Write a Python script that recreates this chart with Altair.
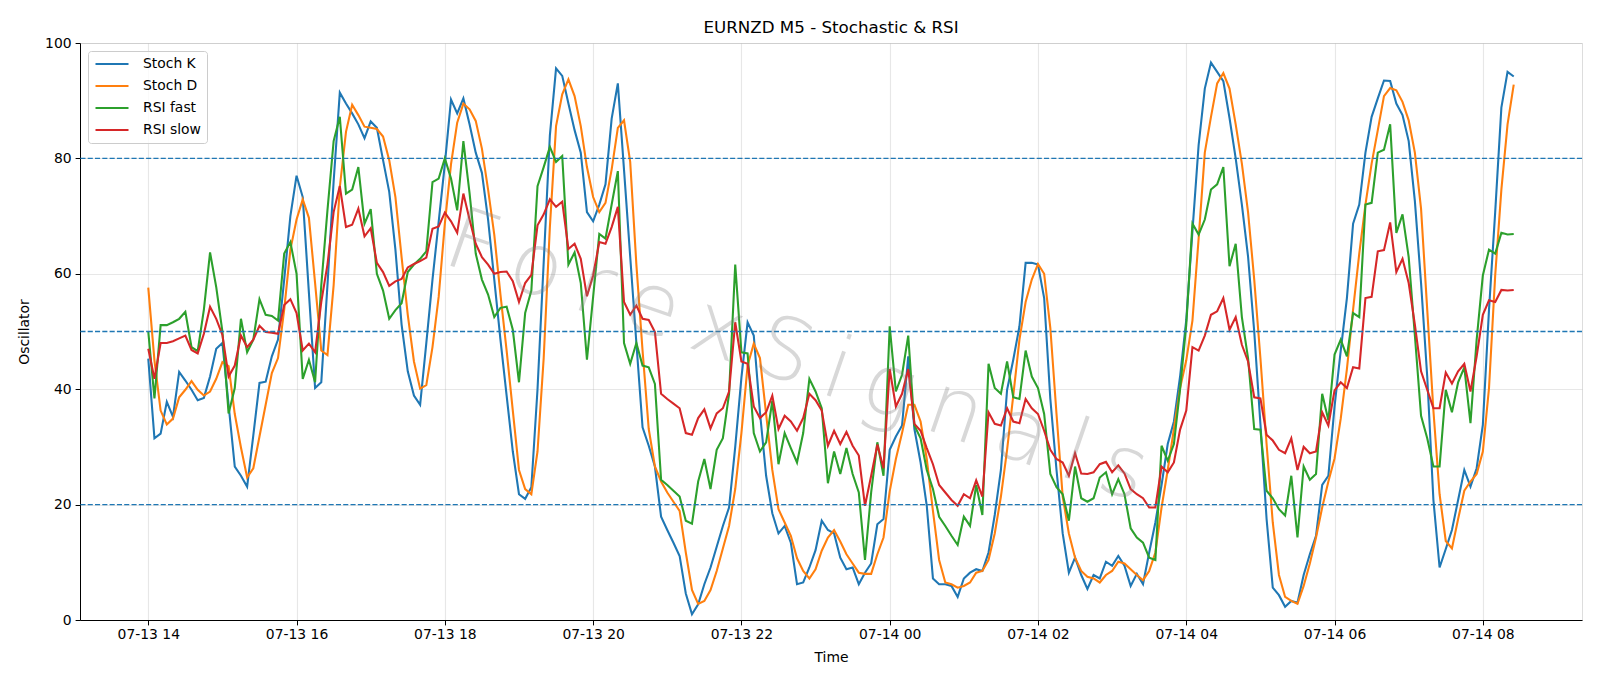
import altair as alt
import pandas as pd

# ---------------- data ----------------
SERIES = ["Stoch K", "Stoch D", "RSI fast", "RSI slow"]
COLORS = ["#1f77b4", "#ff7f0e", "#2ca02c", "#d62728"]
LEVELS = [20, 50, 80]
START = "2025-07-13 14:00"
STEP = "5min"
TITLE = "EURNZD M5 - Stochastic & RSI"
WATERMARK = "ForexSignals"

STOCH_K = [
    45.3, 31.5, 32.3, 37.8, 35.2, 43.0, 41.5, 39.9, 38.1, 38.5,
    42.2, 47.0, 48.0, 37.3, 26.6, 25.0, 23.1, 32.0, 41.1, 41.3,
    45.7, 48.6, 59.0, 70.0, 77.0, 73.3, 56.7, 40.2, 41.2, 58.0,
    76.0, 91.4, 89.5, 87.8, 85.9, 83.5, 86.4, 85.3, 79.7, 74.2,
    64.2, 51.2, 43.1, 38.9, 37.3, 48.0, 59.0, 69.0, 79.0, 90.2,
    87.8, 90.4, 85.9, 81.0, 77.5, 69.4, 59.0, 48.6, 38.9, 29.2,
    21.8, 21.0, 23.0, 40.0, 62.0, 84.0, 95.6, 94.3, 89.5, 84.9,
    81.0, 70.7, 69.1, 72.0, 75.5, 86.9, 93.0, 78.0, 63.0, 48.0,
    33.4, 30.2, 26.6, 17.9, 15.6, 13.4, 11.1, 4.6, 1.0, 2.7,
    6.2, 9.1, 12.7, 16.3, 19.5, 30.0, 42.0, 51.6, 49.3, 36.0,
    25.0, 18.5, 15.0, 16.3, 13.4, 6.2, 6.5, 9.1, 12.1, 17.2,
    15.6, 15.0, 10.8, 8.8, 9.1, 6.2, 8.2, 9.8, 16.6, 17.5,
    29.5, 31.8, 33.7, 45.7, 33.1, 27.3, 19.8, 7.2, 6.2, 6.2,
    5.9, 4.0, 7.2, 8.2, 8.8, 8.5, 11.7, 18.2, 26.0, 39.9,
    45.1, 50.9, 61.9, 61.9, 61.6, 55.8, 38.3, 26.0, 15.0, 8.2,
    10.8, 7.8, 5.4, 7.8, 7.2, 10.1, 9.4, 11.1, 9.4, 5.9,
    8.0, 6.2, 11.7, 16.9, 23.4, 30.5, 34.4, 42.2, 52.0, 67.4,
    82.3, 92.1, 96.6, 95.0, 93.4, 87.0, 80.0, 72.0, 63.0, 50.0,
    34.0, 17.5, 5.6, 4.3, 2.3, 3.3, 3.0, 7.8, 11.4, 14.6,
    23.4, 25.0, 37.0, 46.7, 55.8, 68.7, 72.0, 81.0, 87.2, 90.4,
    93.5, 93.4, 89.5, 87.5, 83.0, 72.6, 58.4, 42.2, 20.8, 9.1,
    12.3, 15.6, 20.8, 26.0, 23.1, 26.3, 33.8, 53.8, 70.7, 88.8,
    95.0, 94.2,
]

STOCH_D = [
    57.6, 45.0, 36.3, 33.9, 34.9, 38.6, 39.9, 41.4, 39.9, 38.9,
    39.6, 41.8, 44.7, 44.0, 35.7, 29.9, 24.7, 26.3, 31.8, 37.3,
    42.8, 45.4, 53.8, 64.2, 69.4, 72.9, 69.7, 58.4, 46.7, 45.9,
    58.0, 75.0, 84.6, 89.3, 87.5, 85.5, 85.3, 85.1, 83.8, 79.7,
    73.3, 62.9, 52.9, 44.8, 40.1, 40.7, 47.3, 56.0, 68.7, 79.0,
    86.2, 89.5, 88.5, 86.5, 81.7, 74.6, 66.8, 56.4, 46.7, 36.3,
    26.0, 22.7, 21.8, 29.2, 45.4, 68.1, 85.6, 91.1, 93.7, 90.8,
    85.6, 78.5, 73.3, 70.7, 72.3, 78.1, 85.3, 86.6, 79.4, 61.6,
    46.7, 33.1, 26.6, 24.0, 22.1, 20.5, 18.9, 11.7, 5.2, 2.8,
    3.3, 5.2, 8.5, 12.4, 16.3, 22.7, 32.4, 44.1, 47.9, 45.4,
    35.7, 26.0, 19.2, 16.9, 14.6, 10.7, 8.5, 7.2, 8.8, 12.0,
    14.3, 15.6, 13.6, 11.4, 9.8, 8.2, 8.0, 8.0, 11.4, 14.3,
    22.3, 27.9, 32.4, 37.3, 37.3, 34.4, 27.9, 18.9, 10.4, 6.5,
    6.2, 5.6, 5.9, 6.5, 8.2, 8.5, 10.4, 15.0, 21.4, 29.5,
    38.9, 48.6, 55.1, 59.0, 61.7, 60.0, 50.6, 35.7, 21.4, 15.0,
    10.8, 8.5, 7.5, 7.2, 6.5, 7.8, 8.5, 10.1, 9.8, 8.8,
    7.8, 6.9, 8.5, 11.7, 19.5, 26.0, 33.1, 40.2, 45.0, 51.9,
    66.1, 81.0, 87.2, 93.0, 94.8, 92.1, 85.9, 79.1, 70.7, 59.0,
    45.4, 30.5, 16.9, 7.8, 4.0, 3.3, 2.8, 5.9, 9.8, 14.3,
    19.5, 24.0, 28.0, 34.9, 43.5, 53.8, 63.5, 72.0, 79.1, 84.9,
    90.8, 92.2, 91.8, 89.8, 86.6, 81.0, 71.3, 53.8, 36.3, 21.8,
    13.7, 12.4, 17.5, 22.4, 24.0, 25.3, 29.2, 40.2, 59.7, 74.6,
    85.9, 92.8,
]

RSI_FAST = [
    50.0, 38.4, 51.1, 51.1, 51.6, 52.2, 53.4, 47.3, 46.6, 53.8,
    63.7, 57.7, 50.0, 35.8, 40.2, 52.2, 46.4, 48.6, 55.6, 52.9,
    52.7, 51.9, 63.5, 65.5, 60.0, 41.8, 45.1, 41.2, 58.0, 71.0,
    83.0, 87.2, 73.9, 74.6, 78.5, 68.7, 71.2, 60.0, 57.1, 52.2,
    53.7, 54.9, 60.3, 61.6, 62.6, 63.9, 75.9, 76.5, 80.0, 76.5,
    71.0, 83.0, 74.0, 63.5, 59.0, 56.4, 52.5, 54.1, 54.3, 50.3,
    41.2, 53.2, 57.1, 75.2, 78.5, 82.0, 79.4, 80.4, 61.6, 63.7,
    58.4, 45.1, 56.0, 66.9, 66.1, 72.0, 77.8, 48.0, 44.4, 48.0,
    44.1, 43.8, 40.9, 24.3, 23.4, 22.4, 21.4, 17.2, 16.7, 24.0,
    27.9, 22.7, 29.5, 31.5, 39.2, 61.6, 46.4, 46.2, 32.4, 29.2,
    30.8, 38.0, 27.0, 32.4, 29.8, 27.3, 32.4, 41.8, 39.6, 36.7,
    23.7, 29.2, 25.3, 29.8, 25.3, 22.1, 10.4, 22.1, 30.8, 25.0,
    50.9, 39.6, 42.5, 49.3, 33.7, 31.5, 26.0, 22.7, 17.9, 16.3,
    14.6, 13.0, 17.9, 16.3, 23.4, 18.2, 44.4, 40.2, 39.2, 44.8,
    38.6, 38.3, 46.7, 42.2, 40.2, 35.7, 25.3, 23.0, 21.8, 17.2,
    26.6, 21.1, 20.5, 21.1, 24.7, 25.6, 21.8, 24.4, 21.8, 15.9,
    14.3, 13.4, 10.8, 10.4, 30.2, 27.6, 30.5, 40.0, 51.2, 68.7,
    66.8, 69.4, 74.6, 75.5, 78.5, 61.3, 65.2, 52.5, 45.4, 33.1,
    33.0, 22.4, 21.1, 19.2, 18.1, 25.0, 14.3, 26.6, 24.3, 25.3,
    39.2, 34.6, 46.0, 48.6, 45.7, 53.2, 52.5, 72.0, 72.3, 81.0,
    81.5, 85.9, 67.1, 70.3, 62.9, 49.3, 35.4, 31.5, 26.6, 26.6,
    39.9, 36.0, 41.2, 43.8, 34.1, 48.6, 59.7, 64.2, 63.5, 67.1,
    66.8, 66.9,
]

RSI_SLOW = [
    47.0, 41.8, 48.0, 48.0, 48.3, 48.8, 49.3, 46.8, 46.2, 49.6,
    54.3, 52.2, 49.4, 42.2, 44.1, 49.3, 47.3, 48.6, 51.0, 49.9,
    49.8, 49.6, 54.6, 55.6, 53.2, 46.7, 47.9, 46.4, 55.1, 61.6,
    70.7, 75.2, 68.1, 68.5, 71.3, 66.5, 67.9, 61.9, 60.3, 57.9,
    58.7, 59.1, 61.1, 61.7, 62.2, 62.8, 67.8, 68.2, 70.6, 69.1,
    67.1, 73.9, 69.4, 65.2, 62.9, 61.6, 60.0, 60.3, 60.4, 58.7,
    55.1, 58.4, 59.8, 68.4, 70.3, 72.9, 71.6, 72.5, 64.3, 65.2,
    62.6, 56.1, 59.7, 65.5, 65.2, 68.1, 71.6, 55.1, 52.9, 54.5,
    52.2, 52.0, 49.9, 39.2, 38.3, 37.5, 36.7, 32.4, 32.1, 35.0,
    36.5, 33.2, 35.8, 36.7, 39.6, 51.6, 44.8, 44.4, 37.0, 35.0,
    36.0, 38.9, 33.1, 35.4, 34.4, 32.8, 35.0, 39.2, 38.1, 36.3,
    30.2, 32.8, 30.5, 32.6, 30.2, 28.5, 19.8, 25.0, 30.4, 26.3,
    43.5, 37.0, 39.2, 43.5, 34.0, 32.8, 29.8, 27.0, 23.4, 22.1,
    20.8, 19.8, 21.8, 21.1, 24.2, 21.4, 36.0, 34.0, 33.7, 36.7,
    34.4, 34.1, 38.3, 36.7, 35.7, 32.8, 29.5, 27.9, 27.3, 25.0,
    28.9, 25.4, 25.3, 25.6, 27.0, 27.4, 25.6, 26.8, 25.4, 22.7,
    21.8, 21.1, 19.5, 19.5, 26.6, 25.6, 27.3, 33.0, 36.3, 47.3,
    46.7, 49.3, 52.9, 53.5, 55.8, 50.3, 52.5, 47.7, 44.8, 38.6,
    38.4, 32.1, 31.1, 29.5, 28.9, 31.5, 26.0, 30.0, 28.9, 29.2,
    36.0, 33.7, 39.8, 41.2, 40.2, 43.8, 43.6, 55.8, 56.0, 63.9,
    64.1, 68.9, 60.3, 62.6, 58.4, 51.2, 43.1, 39.9, 36.7, 36.7,
    42.9, 41.0, 43.1, 44.4, 39.6, 45.7, 52.9, 55.4, 55.1, 57.2,
    57.1, 57.2,
]

assert len(STOCH_K) == len(STOCH_D) == len(RSI_FAST) == len(RSI_SLOW) == 222

# ---------------- tables ----------------
times = pd.date_range(START, periods=len(STOCH_K), freq=STEP)
wide = pd.DataFrame({
    "time": times,
    "Stoch K": STOCH_K,
    "Stoch D": STOCH_D,
    "RSI fast": RSI_FAST,
    "RSI slow": RSI_SLOW,
})
long = wide.melt("time", var_name="series", value_name="value")
levels = pd.DataFrame({"level": LEVELS})
wm_text = "\u2009".join(list(WATERMARK))
wm = pd.DataFrame({"time": [pd.Timestamp("2025-07-13 22:45")], "value": [45.5],
                   "text": [wm_text]})

FONT = "DejaVu Sans"
FS = 13.9

x_domain = [
    alt.DateTime(year=2025, month=7, date=13, hours=13, minutes=4, seconds=45),
    alt.DateTime(year=2025, month=7, date=14, hours=9, minutes=20, seconds=15),
]
tick_values = []
for h in [14, 16, 18, 20, 22]:
    tick_values.append(alt.DateTime(year=2025, month=7, date=13, hours=h))
for h in [0, 2, 4, 6, 8]:
    tick_values.append(alt.DateTime(year=2025, month=7, date=14, hours=h))

x_enc = alt.X(
    "time:T",
    scale=alt.Scale(domain=x_domain),
    axis=alt.Axis(
        values=tick_values, format="%m-%d %H", title="Time",
        labelFontSize=FS, titleFontSize=FS, labelFont=FONT, titleFont=FONT,
        titleFontWeight="normal", tickSize=4.9, labelPadding=3, titlePadding=9,
        labelColor="black", titleColor="black", tickColor="black",
        domainColor="black", grid=True, gridColor="#b0b0b0", gridOpacity=0.3,
        gridWidth=1.1, labelAngle=0, labelOverlap=False,
    ),
)
y_enc = alt.Y(
    "value:Q",
    scale=alt.Scale(domain=[0, 100], nice=False, zero=False),
    axis=alt.Axis(
        values=[0, 20, 40, 60, 80, 100], title="Oscillator",
        labelFontSize=FS, titleFontSize=FS, labelFont=FONT, titleFont=FONT,
        titleFontWeight="normal", tickSize=4.9, labelPadding=4, titlePadding=13,
        labelColor="black", titleColor="black", tickColor="black",
        domainColor="black", grid=True, gridColor="#b0b0b0", gridOpacity=0.3,
        gridWidth=1.1,
    ),
)

watermark = alt.Chart(wm).mark_text(
    angle=19, fontSize=86, font=FONT, fontWeight=200, color="#7f7f7f",
    opacity=0.3,
).encode(x=alt.X("time:T"), y=alt.Y("value:Q"), text="text:N")

lines = alt.Chart(long).mark_line(strokeWidth=2.08).encode(
    x=x_enc,
    y=y_enc,
    color=alt.Color(
        "series:N",
        scale=alt.Scale(domain=SERIES, range=COLORS),
        sort=SERIES,
        legend=alt.Legend(
            title=None, orient="none", legendX=8, legendY=8,
            symbolType="M-1,0H5", symbolSize=121, symbolStrokeWidth=2.08,
            labelFontSize=FS, labelFont=FONT, labelColor="black",
            rowPadding=8, padding=6, labelOffset=35,
            strokeColor="#cccccc", fillColor="rgba(255,255,255,0.8)",
            cornerRadius=3,
        ),
    ),
)

rules = alt.Chart(levels).mark_rule(
    color="#1f77b4", strokeDash=[5.1, 2.2], strokeWidth=1.39
).encode(y=alt.Y("level:Q"))

chart = alt.layer(lines, rules, watermark).properties(
    width=1502,
    height=577,
    title=alt.TitleParams(TITLE, fontSize=16.7, font=FONT, fontWeight="normal",
                          color="black", anchor="middle", offset=-1),
    padding={"left": 80, "top": 43, "right": 18, "bottom": 66},
    autosize=alt.AutoSizeParams(type="none"),
).configure_view(stroke="black", strokeWidth=1.1).configure(background="white")

chart.save("out.html", embed_options={"renderer": "svg", "actions": False})
